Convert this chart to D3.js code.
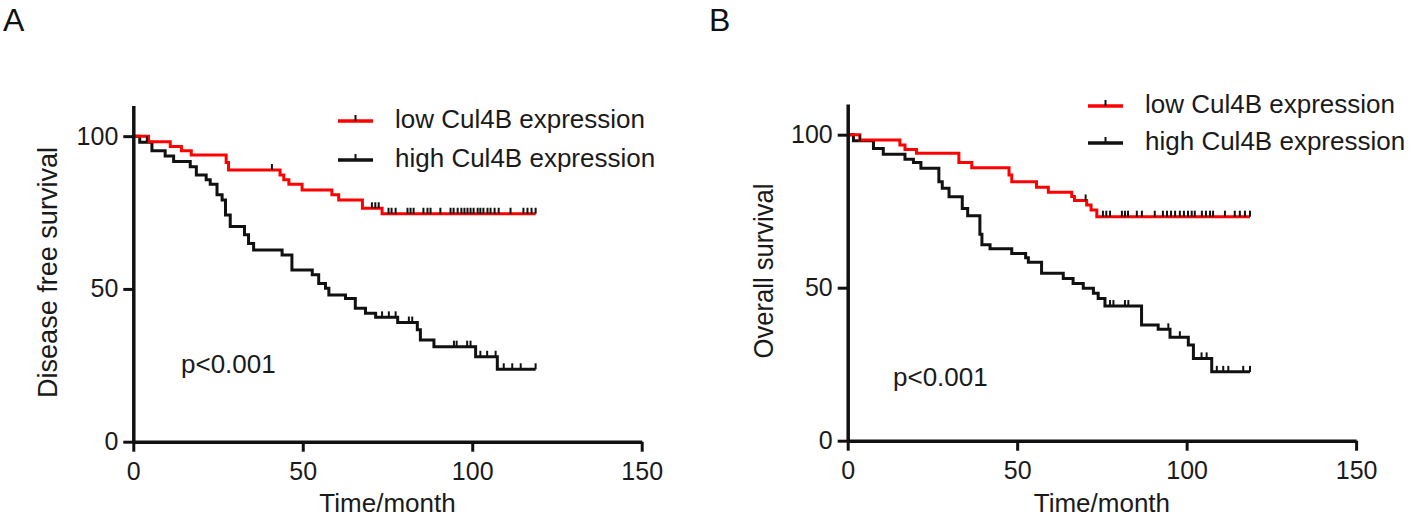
<!DOCTYPE html>
<html><head><meta charset="utf-8">
<script src="https://cdn.jsdelivr.net/npm/d3@7"></script>
<style>
html,body{margin:0;padding:0;background:#fff;}
svg{display:block;font-family:"Liberation Sans",Arial,sans-serif;}
</style></head>
<body>
<svg id="chart" width="1418" height="518"></svg>
<script>
// ---- data ----
const xTicks = [0, 50, 100, 150];
const yTicks = [0, 50, 100];
const seriesNames = ["low Cul4B expression", "high Cul4B expression"];

// Panel A: Disease free survival
const aLowTimes = [0, 4.5, 10.9, 14.2, 17.1, 27.4, 28.1, 43.3, 44.4, 45.9, 49.8, 58.6, 60.6, 67.6, 73.4, 118.7];
const aLowSurv  = [100, 98.2, 96.6, 95.2, 93.8, 91.4, 88.9, 87.3, 85.7, 84.3, 82.4, 80.8, 79.1, 76.4, 74.6, 74.6];
const aLowCensor = [40.9, 70.4, 71.4, 72.4, 75.3, 76.2, 77.4, 80.9, 81.8, 82.7, 85.6, 86.8, 87.7, 90.6, 93.6, 94.5, 95.7, 96.8, 97.7, 98.6, 99.5, 100.4, 101.6, 102.4, 103.3, 104.5, 105.4, 106.6, 107.8, 111.3, 115.1, 116.3, 117.5, 118.7];

const aHighTimes = [0, 1.9, 5.5, 9.4, 11.9, 16.8, 18.6, 21.5, 22.7, 24.7, 26.2, 27.2, 28.6, 32.8, 34.0, 35.5, 43.9, 46.8, 52.8, 54.7, 56.7, 57.7, 62.6, 65.5, 68.5, 71.5, 78.0, 83.8, 84.7, 88.7, 101.0, 107.4, 118.7];
const aHighSurv  = [100, 98.0, 95.2, 93.5, 91.7, 90.0, 87.3, 85.7, 84.3, 80.8, 79.1, 74.2, 70.4, 67.7, 64.9, 62.7, 61.1, 56.2, 54.6, 51.8, 50.2, 48.0, 46.9, 43.7, 42.0, 40.7, 39.0, 36.6, 33.3, 31.1, 27.8, 23.7, 23.7];
const aHighCensor = [4.0, 73.4, 75.4, 77.4, 81.3, 82.3, 94.6, 95.4, 98.5, 99.5, 102.4, 104.4, 106.9, 109.3, 111.8, 114.3, 118.7];

// Panel B: Overall survival
const bLowTimes = [0, 3.6, 15.4, 16.9, 20.3, 32.8, 36.6, 47.6, 48.4, 55.7, 59.2, 66.1, 66.9, 70.5, 71.8, 73.5, 118.7];
const bLowSurv  = [100, 98.3, 96.6, 95.2, 93.9, 90.9, 89.2, 86.8, 84.6, 82.8, 81.2, 79.8, 78.5, 77.0, 75.4, 73.2, 73.2];
const bLowCensor = [70.2, 75.3, 76.3, 77.4, 80.9, 81.8, 82.7, 85.3, 86.8, 90.6, 93.0, 94.2, 95.4, 96.6, 98.0, 99.2, 100.4, 101.5, 102.4, 104.5, 105.7, 106.9, 107.8, 111.3, 114.2, 115.7, 117.2, 118.7];

const bHighTimes = [0, 1.7, 7.6, 10.5, 16.9, 19.4, 21.6, 26.9, 27.9, 29.9, 33.8, 35.4, 39.0, 39.6, 42.0, 48.4, 52.5, 53.3, 57.2, 63.6, 66.5, 69.5, 72.5, 73.9, 75.9, 86.7, 91.6, 95.1, 100.5, 102.0, 107.4, 118.7];
const bHighSurv  = [100, 98.0, 95.5, 93.6, 92.0, 90.9, 89.0, 84.6, 82.5, 79.7, 75.9, 73.5, 67.5, 64.0, 62.7, 61.2, 59.8, 58.3, 54.7, 53.0, 51.4, 49.8, 48.2, 46.5, 44.0, 37.8, 36.4, 33.8, 31.3, 26.9, 22.5, 22.5];
const bHighCensor = [3.6, 77.4, 78.4, 81.8, 82.8, 94.6, 98.0, 104.4, 105.9, 108.9, 110.8, 112.3, 116.7, 118.7];

// ---- drawing ----
const svg = d3.select("#chart");
const INK = "#111";
const RED = "#ff0000";

function survAt(times, surv, t) {
  let v = surv[0];
  for (let i = 0; i < times.length; i++) { if (times[i] <= t) v = surv[i]; }
  return v;
}

function drawPanel(p) {
  const g = svg.append("g");
  const x = d3.scaleLinear().domain([0, 150]).range([p.x0, p.x1]);
  const y = d3.scaleLinear().domain([0, 110]).range([p.yb, p.yt]);

  const line = d3.line().x(d => x(d[0])).y(d => y(d[1])).curve(d3.curveStepAfter);

  const series = [
    {times: p.highTimes, surv: p.highSurv, censor: p.highCensor, color: INK},
    {times: p.lowTimes, surv: p.lowSurv, censor: p.lowCensor, color: RED}
  ];
  series.forEach(s => {
    const pts = s.times.map((t, i) => [t, s.surv[i]]);
    g.append("path").attr("d", line(pts)).attr("fill", "none")
      .attr("stroke", s.color).attr("stroke-width", 3).attr("stroke-linejoin", "miter");
  });
  series.forEach(s => {
    g.selectAll(null).data(s.censor).enter().append("line")
      .attr("x1", d => x(d)).attr("x2", d => x(d))
      .attr("y1", d => y(survAt(s.times, s.surv, d)))
      .attr("y2", d => y(survAt(s.times, s.surv, d)) - 6)
      .attr("stroke", INK).attr("stroke-width", 2);
  });

  // axes
  const xa = g.append("g").attr("transform", `translate(0,${p.yb})`)
    .call(d3.axisBottom(x).tickValues(xTicks).tickFormat(d3.format("d")).tickSize(10).tickSizeOuter(0).tickPadding(11));
  const ya = g.append("g").attr("transform", `translate(${p.x0},0)`)
    .call(d3.axisLeft(y).tickValues(yTicks).tickFormat(d3.format("d")).tickSize(10).tickSizeOuter(0).tickPadding(5));
  [xa, ya].forEach(a => {
    a.select(".domain").attr("stroke", INK).attr("stroke-width", 3.5);
    a.selectAll(".tick line").attr("stroke", INK).attr("stroke-width", 3);
    a.selectAll(".tick text").attr("fill", "#1a1a1a").style("font-size", "25px")
      .style("font-family", '"Liberation Sans", Arial, sans-serif');
  });

  // axis titles
  g.append("text").attr("x", (p.x0 + p.x1) / 2).attr("y", 512).attr("text-anchor", "middle")
    .attr("fill", "#1a1a1a").style("font-size", "26px").text("Time/month");
  g.append("text").attr("transform", `translate(${p.ytX},${p.ytY}) rotate(-90)`)
    .attr("text-anchor", "middle").attr("fill", "#1a1a1a").style("font-size", "28px")
    .attr("textLength", p.ytLen).attr("lengthAdjust", "spacingAndGlyphs")
    .text(p.yTitle);

  // panel letter
  g.append("text").attr("x", p.letterX).attr("y", 31).attr("fill", "#111")
    .style("font-size", "32px").text(p.letter);

  // p value
  g.append("text").attr("x", p.pX).attr("y", p.pY).attr("fill", "#1a1a1a")
    .style("font-size", "26px").text("p<0.001");

  // legend
  [RED, INK].forEach((c, i) => {
    const ly = p.legY[i];
    g.append("line").attr("x1", p.legX).attr("x2", p.legX + 35).attr("y1", ly).attr("y2", ly)
      .attr("stroke", c).attr("stroke-width", 3.5);
    g.append("line").attr("x1", p.legX + 17.5).attr("x2", p.legX + 17.5).attr("y1", ly).attr("y2", ly - 6)
      .attr("stroke", INK).attr("stroke-width", 2);
    g.append("text").attr("x", p.legX + 57).attr("y", ly + 6.5).attr("fill", "#1a1a1a")
      .style("font-size", "26px").text(seriesNames[i]);
  });
}

drawPanel({
  x0: 133.3, x1: 641.7, yb: 441.7, yt: 105.6,
  lowTimes: aLowTimes, lowSurv: aLowSurv, lowCensor: aLowCensor,
  highTimes: aHighTimes, highSurv: aHighSurv, highCensor: aHighCensor,
  yTitle: "Disease free survival", ytX: 57, ytY: 272.5, ytLen: 251,
  letter: "A", letterX: 3, pX: 181, pY: 373,
  legX: 338, legY: [121, 160]
});
drawPanel({
  x0: 847.7, x1: 1356.1, yb: 440.7, yt: 104.1,
  lowTimes: bLowTimes, lowSurv: bLowSurv, lowCensor: bLowCensor,
  highTimes: bHighTimes, highSurv: bHighSurv, highCensor: bHighCensor,
  yTitle: "Overall survival", ytX: 773, ytY: 271, ytLen: 175,
  letter: "B", letterX: 709, pX: 893, pY: 386,
  legX: 1088, legY: [106, 143]
});
</script>
</body></html>
